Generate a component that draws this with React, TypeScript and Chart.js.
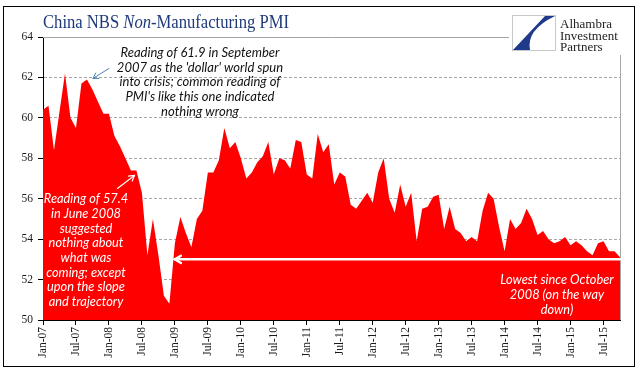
import React, { useEffect, useRef } from "react";
import { Chart, registerables } from "chart.js";

Chart.register(...registerables);

const MONTHS = ["Jan", "Feb", "Mar", "Apr", "May", "Jun", "Jul", "Aug", "Sep", "Oct", "Nov", "Dec"];
const YEARS = ["07", "08", "09", "10", "11", "12", "13", "14", "15"];

const pmi2007 = [60.4, 60.6, 58.4, 60.3, 62.2, 60.0, 59.5, 61.7, 61.9, 61.4, 60.8, 60.2];
const pmi2008 = [60.2, 59.1, 58.6, 58.0, 57.4, 57.4, 56.3, 53.2, 55.0, 53.2, 51.2, 50.8];
const pmi2009 = [53.8, 55.1, 54.3, 53.6, 55.0, 55.4, 57.3, 57.3, 57.9, 59.5, 58.5, 58.8];
const pmi2010 = [58.0, 57.0, 57.3, 57.8, 58.1, 58.8, 57.2, 58.0, 57.9, 57.5, 58.9, 58.8];
const pmi2011 = [57.2, 57.0, 59.2, 58.3, 58.7, 56.7, 57.3, 57.1, 55.7, 55.5, 55.9, 56.3];
const pmi2012 = [55.8, 57.3, 58.0, 56.0, 55.3, 56.7, 55.6, 56.3, 53.9, 55.5, 55.6, 56.1];
const pmi2013 = [56.2, 54.5, 55.6, 54.5, 54.3, 53.9, 54.1, 53.9, 55.4, 56.3, 56.0, 54.6];
const pmi2014 = [53.4, 55.0, 54.5, 54.8, 55.5, 55.0, 54.2, 54.4, 54.0, 53.8, 53.9, 54.1];
const pmi2015 = [53.7, 53.9, 53.7, 53.4, 53.2, 53.8, 53.9, 53.4, 53.4, 53.1];

const values = [
  ...pmi2007, ...pmi2008, ...pmi2009, ...pmi2010, ...pmi2011,
  ...pmi2012, ...pmi2013, ...pmi2014, ...pmi2015,
];
const categories = YEARS.flatMap((y) => MONTHS.map((m) => `${m}-${y}`)).slice(0, values.length);

const Y_MIN = 50;
const Y_MAX = 64;
const Y_STEP = 2;
const TICK_EVERY = 6;

const TITLE_A = "China NBS ";
const TITLE_B = "Non";
const TITLE_C = "-Manufacturing PMI";
const LOGO_LINES = ["Alhambra", "Investment", "Partners"];

const NOTE_TOP = [
  "Reading of 61.9 in September",
  "2007 as the 'dollar' world spun",
  "into crisis; common reading of",
  "PMI's like this one indicated",
  "nothing wrong",
];
const NOTE_LEFT = [
  "Reading of 57.4",
  "in June 2008",
  "suggested",
  "nothing about",
  "what was",
  "coming; except",
  "upon the slope",
  "and trajectory",
];
const NOTE_RIGHT = ["Lowest since October", "2008 (on the way", "down)"];

const PEAK_LABEL = "Sep-07";
const PEAK_VALUE = 61.9;
const JUNE_LABEL = "Jun-08";
const JUNE_VALUE = 57.4;
const LOW_START_LABEL = "Jan-09";
const LOW_LEVEL = 53.0;

function drawArrow(ctx: CanvasRenderingContext2D, x1: number, y1: number, x2: number, y2: number, color: string, width: number, head: number) {
  const ang = Math.atan2(y2 - y1, x2 - x1);
  ctx.save();
  ctx.strokeStyle = color;
  ctx.lineWidth = width;
  ctx.lineCap = "round";
  ctx.beginPath();
  ctx.moveTo(x1, y1);
  ctx.lineTo(x2, y2);
  ctx.stroke();
  ctx.beginPath();
  ctx.moveTo(x2 - head * Math.cos(ang - 0.55), y2 - head * Math.sin(ang - 0.55));
  ctx.lineTo(x2, y2);
  ctx.lineTo(x2 - head * Math.cos(ang + 0.55), y2 - head * Math.sin(ang + 0.55));
  ctx.stroke();
  ctx.restore();
}

function drawLines(ctx: CanvasRenderingContext2D, lines: string[], cx: number, cy: number, lh: number) {
  lines.forEach((l, i) => ctx.fillText(l, cx, cy + i * lh));
}

const overlay = {
  id: "overlay",
  beforeDraw(chart: any) {
    const { ctx, width, height } = chart;
    ctx.save();
    ctx.fillStyle = "#ffffff";
    ctx.fillRect(0, 0, width, height);
    ctx.restore();
  },
  beforeDatasetsDraw(chart: any) {
    const { ctx, chartArea: a } = chart;
    ctx.save();
    ctx.strokeStyle = "#A6A6A6";
    ctx.lineWidth = 1;
    ctx.beginPath();
    ctx.moveTo(a.left, Math.round(a.top) + 0.5);
    ctx.lineTo(Math.round(a.right) + 0.5, Math.round(a.top) + 0.5);
    ctx.lineTo(Math.round(a.right) + 0.5, a.bottom);
    ctx.stroke();
    ctx.restore();
  },
  afterDraw(chart: any) {
    const { ctx } = chart;
    const xs = chart.scales.x;
    const ys = chart.scales.y;
    const a = chart.chartArea;
    ctx.save();

    // outer frame
    ctx.strokeStyle = "#000";
    ctx.lineWidth = 1;
    ctx.strokeRect(3.5, 6.5, 631, 360);

    // title (condensed serif to match the original face)
    ctx.fillStyle = "#1F3A7A";
    ctx.textBaseline = "alphabetic";
    ctx.textAlign = "left";
    const reg = '19.5px "Liberation Serif"';
    const ital = 'italic 19.5px "Liberation Serif"';
    ctx.font = reg;
    const wA = ctx.measureText(TITLE_A).width;
    const wC = ctx.measureText(TITLE_C).width;
    ctx.font = ital;
    const wB = ctx.measureText(TITLE_B).width;
    const sx = 246 / (wA + wB + wC);
    ctx.save();
    ctx.translate(43, 28);
    ctx.scale(sx, 1);
    ctx.font = reg;
    ctx.fillText(TITLE_A, 0, 0);
    ctx.font = ital;
    ctx.fillText(TITLE_B, wA, 0);
    ctx.font = reg;
    ctx.fillText(TITLE_C, wA + wB, 0);
    ctx.restore();

    // logo area
    ctx.fillStyle = "#fff";
    ctx.fillRect(509, 9, 124, 46);
    ctx.strokeStyle = "#C8C8C8";
    ctx.strokeRect(512.5, 15.5, 43, 35);
    ctx.fillStyle = "#1F3A8A";
    ctx.beginPath();
    ctx.moveTo(545, 16);
    ctx.lineTo(555, 16);
    ctx.quadraticCurveTo(526, 30, 530, 50);
    ctx.lineTo(513, 50);
    ctx.quadraticCurveTo(528, 34, 545, 16);
    ctx.closePath();
    ctx.fill();
    ctx.fillStyle = "#222";
    ctx.font = '13px "Liberation Serif"';
    ctx.fillText(LOGO_LINES[0], 560, 28);
    ctx.fillText(LOGO_LINES[1], 560, 40);
    ctx.fillText(LOGO_LINES[2], 560, 51);

    // arrows
    const pi = categories.indexOf(PEAK_LABEL);
    const px = xs.getPixelForValue(pi) + 6;
    const py = ys.getPixelForValue(PEAK_VALUE) - 1;
    drawArrow(ctx, px + 16, py - 10, px, py, "#4F81BD", 1, 6);

    const ji = categories.indexOf(JUNE_LABEL);
    const jx = xs.getPixelForValue(ji) - 2;
    const jy = ys.getPixelForValue(JUNE_VALUE) + 5;
    drawArrow(ctx, jx - 17, jy + 13, jx, jy, "#ffffff", 1.2, 6);

    const li = categories.indexOf(LOW_START_LABEL);
    const lx = xs.getPixelForValue(li);
    const ly = ys.getPixelForValue(LOW_LEVEL);
    drawArrow(ctx, a.right, ly, lx, ly, "#ffffff", 2.5, 7);

    // notes
    ctx.textAlign = "center";
    ctx.textBaseline = "middle";
    ctx.font = 'italic 13px "Lato"';
    ctx.fillStyle = "#111";
    drawLines(ctx, NOTE_TOP, 200, 53, 14.6);
    ctx.fillStyle = "#ffffff";
    ctx.font = 'italic 12.8px "Lato"';
    drawLines(ctx, NOTE_LEFT, 86, 199, 14.7);
    drawLines(ctx, NOTE_RIGHT, 557, 279.5, 15);

    ctx.restore();
  },
};

export default function App() {
  const ref = useRef<HTMLCanvasElement | null>(null);
  useEffect(() => {
    if (!ref.current) return;
    const chart = new Chart(ref.current, {
      type: "line",
      data: {
        labels: categories,
        datasets: [
          {
            data: values,
            backgroundColor: "#FF0000",
            borderColor: "#FF0000",
            borderWidth: 0,
            pointRadius: 0,
            fill: "start",
            tension: 0,
          },
        ],
      },
      options: {
        animation: false,
        responsive: false,
        maintainAspectRatio: false,
        layout: { padding: { top: 37, left: 8, right: 21, bottom: 0 } },
        plugins: {
          legend: { display: false },
          tooltip: { enabled: false },
          title: { display: false },
        },
        scales: {
          x: {
            type: "category",
            offset: false,
            afterFit: (s: any) => {
              s.height = 59;
            },
            border: { display: true, color: "#000", width: 1 },
            grid: {
              drawOnChartArea: false,
              drawTicks: true,
              tickLength: 5,
              tickColor: (c: any) => (c.index % TICK_EVERY === 0 ? "#000" : "rgba(0,0,0,0)"),
              color: "rgba(0,0,0,0)",
            },
            ticks: {
              autoSkip: false,
              minRotation: 90,
              maxRotation: 90,
              padding: 2,
              color: "#1a1a1a",
              font: { family: "Liberation Serif", size: 11.5 },
              callback: (_v: any, i: number) => (i % TICK_EVERY === 0 ? categories[i] : ""),
            },
          },
          y: {
            min: Y_MIN,
            max: Y_MAX,
            afterFit: (s: any) => {
              s.width = 35;
            },
            border: { display: true, color: "#000", width: 1, dash: [3, 2] },
            grid: {
              drawTicks: true,
              tickLength: 5,
              tickColor: "#000",
              tickBorderDash: [],
              color: (c: any) =>
                c.tick && (c.tick.value === Y_MIN || c.tick.value === Y_MAX) ? "rgba(0,0,0,0)" : "#A6A6A6",
            },
            ticks: {
              stepSize: Y_STEP,
              padding: 5,
              color: "#1a1a1a",
              font: { family: "Liberation Serif", size: 11.5 },
            },
          },
        },
      },
      plugins: [overlay],
    });
    return () => chart.destroy();
  }, []);
  return (
    <div style={{ position: "fixed", left: 0, top: 0, width: 641, height: 379 }}>
      <canvas ref={ref} width={641} height={379} style={{ display: "block" }} />
    </div>
  );
}
